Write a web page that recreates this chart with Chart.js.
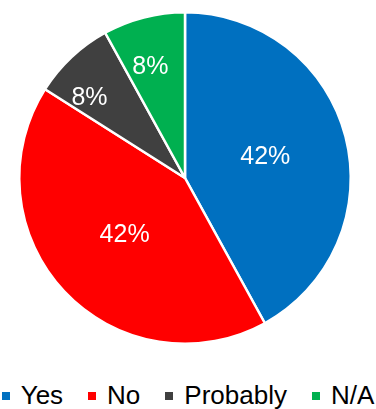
<!DOCTYPE html>
<html>
<head>
<meta charset="utf-8">
<script src="https://cdn.jsdelivr.net/npm/chart.js@4/dist/chart.umd.min.js"></script>
<style>
    html, body { margin: 0; padding: 0; background: #fff; }
    #wrap { width: 376px; height: 356px; position: relative; }
    #legend {
        display: flex;
        justify-content: center;
        align-items: center;
        gap: 25px;
        margin-top: 24px;
        font-family: "Liberation Sans", Arial, sans-serif;
        font-size: 26px;
        color: #000;
        white-space: nowrap;
    }
    #legend .item { display: flex; align-items: center; }
    #legend .box { width: 8px; height: 8px; margin-right: 11px; }
</style>
</head>
<body>
<div id="wrap"><canvas id="pieChart" width="376" height="356"></canvas></div>
<div id="legend"></div>
<script>
// Survey answers
const answers = ['Yes', 'No', 'Probably', 'N/A'];
const shares = [42, 42, 8, 8];
const sliceColors = ['#0070C0', '#FF0000', '#404040', '#00B050'];

// Label placement inside each slice (fraction of radius, angle nudge in degrees)
const labelRadius = [0.5, 0.5, 0.75, 0.7];
const labelNudge = [0, 0, -7, -3];

// Draws the percentage text inside the slices
const sliceLabels = {
    id: 'sliceLabels',
    afterDatasetsDraw(chart) {
        const ctx = chart.ctx;
        const meta = chart.getDatasetMeta(0);
        const data = chart.data.datasets[0].data;
        const total = data.reduce((a, b) => a + b, 0);
        ctx.save();
        ctx.font = '25px "Liberation Sans", Arial, sans-serif';
        ctx.fillStyle = '#fff';
        ctx.textAlign = 'center';
        ctx.textBaseline = 'middle';
        meta.data.forEach((arc, i) => {
            const p = arc.getProps(['x', 'y', 'startAngle', 'endAngle', 'outerRadius'], true);
            const mid = (p.startAngle + p.endAngle) / 2 + labelNudge[i] * Math.PI / 180;
            const r = p.outerRadius * labelRadius[i];
            const pct = Math.round(data[i] / total * 100) + '%';
            ctx.fillText(pct, p.x + Math.cos(mid) * r, p.y + Math.sin(mid) * r);
        });
        ctx.restore();
    }
};

const ctx = document.getElementById('pieChart').getContext('2d');
new Chart(ctx, {
    type: 'pie',
    data: {
        labels: answers,
        datasets: [{
            data: shares,
            backgroundColor: sliceColors,
            borderColor: '#fff',
            borderWidth: 2.5
        }]
    },
    options: {
        responsive: false,
        animation: false,
        layout: { padding: { top: 11, bottom: 11, left: 18, right: 24 } },
        plugins: {
            legend: { display: false },
            tooltip: { enabled: false }
        }
    },
    plugins: [sliceLabels]
});

// Legend below the chart
const legend = document.getElementById('legend');
legend.innerHTML = answers.map((name, i) =>
    `<span class="item"><span class="box" style="background:${sliceColors[i]}"></span>${name}</span>`
).join('');
</script>
</body>
</html>
